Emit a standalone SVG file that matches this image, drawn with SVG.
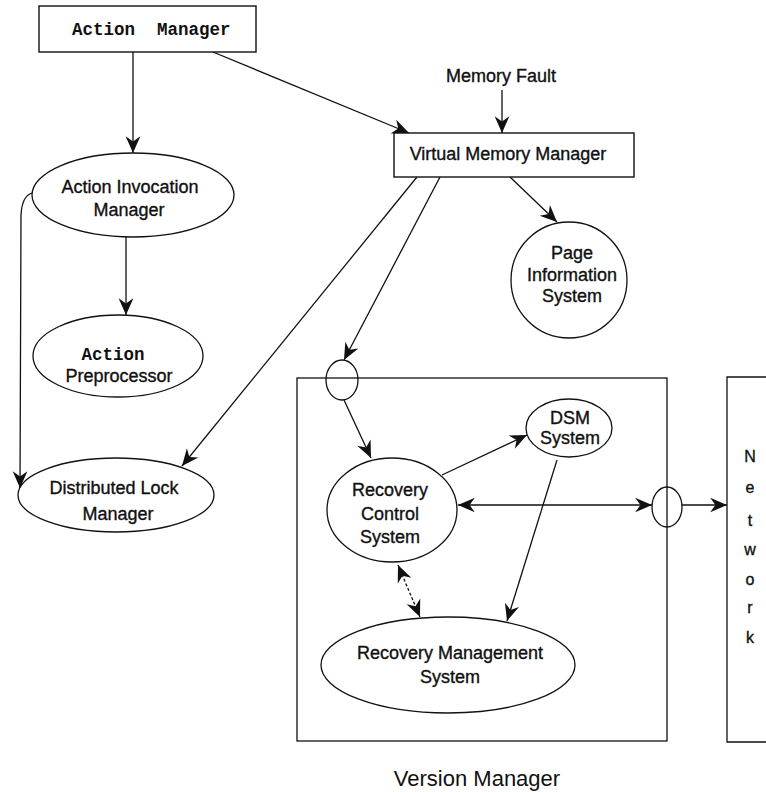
<svg xmlns="http://www.w3.org/2000/svg" width="766" height="792" viewBox="0 0 766 792">
<style>
.box{fill:#fff;stroke:#111;stroke-width:1.4}
.sh{fill:none;stroke:#111;stroke-width:1.3}
.t{font-family:"Liberation Sans",Arial,sans-serif;font-size:18px;fill:#111;stroke:#111;stroke-width:0.35;text-anchor:middle}
.m{font-family:"Liberation Mono","Courier New",monospace;font-size:17.5px;font-weight:bold;fill:#111}
.c{fill:none;stroke:#111;stroke-width:1.3}
</style>
<defs>
<marker id="ah" markerUnits="userSpaceOnUse" markerWidth="20" markerHeight="20" viewBox="-17 -8 19 16" refX="0" refY="0" orient="auto-start-reverse">
<path d="M0,0 L-16,-7 L-11,0 L-16,7 z" fill="#111"/>
</marker>
</defs>
<g id="connectors">
<path class="c" d="M133,52 L133,153" marker-end="url(#ah)"/>
<path class="c" d="M213,52 L409,133" marker-end="url(#ah)"/>
<path class="c" d="M502,90 L502,133" marker-end="url(#ah)"/>
<path class="c" d="M126,237 L126,315" marker-end="url(#ah)"/>
<path class="c" d="M32,193 Q22,196 21,215 L20,488" marker-end="url(#ah)"/>
<path class="c" d="M510,177 L557,222" marker-end="url(#ah)"/>
<path class="c" d="M417,177 L182,466" marker-end="url(#ah)"/>
<path class="c" d="M440,177 L344,360" marker-end="url(#ah)"/>
<path class="c" d="M344,400 L371,458" marker-end="url(#ah)"/>
<path class="c" d="M442,475 L527,435" marker-end="url(#ah)"/>
<path class="c" d="M458,505 L652,505" marker-start="url(#ah)" marker-end="url(#ah)"/>
<path class="c" d="M682,505 L727,505" marker-end="url(#ah)"/>
<path class="c" d="M557,460 L507,621" marker-end="url(#ah)"/>
<path class="c" d="M398,565 L420,617" stroke-dasharray="3,2" stroke-width="1" marker-start="url(#ah)" marker-end="url(#ah)"/>
</g>
<g id="action-manager">
<rect class="box" x="39" y="6" width="217" height="46"/>
<text class="m" y="35"><tspan x="72">Action</tspan><tspan x="157">Manager</tspan></text>
</g>
<g id="memory-fault">
<text class="t" x="501" y="82">Memory Fault</text>
</g>
<g id="virtual-memory-manager">
<rect class="box" x="394" y="133" width="240" height="44"/>
<text class="t" x="508" y="160">Virtual Memory Manager</text>
</g>
<g id="action-invocation-manager">
<ellipse class="sh" cx="133" cy="195" rx="101" ry="42"/>
<text class="t" x="130" y="193">Action Invocation</text>
<text class="t" x="129" y="216">Manager</text>
</g>
<g id="action-preprocessor">
<ellipse class="sh" cx="118" cy="356" rx="85" ry="41"/>
<text class="m" x="113" y="360" text-anchor="middle">Action</text>
<text class="t" x="119" y="382">Preprocessor</text>
</g>
<g id="page-information-system">
<ellipse class="sh" cx="569" cy="280" rx="58" ry="58"/>
<text class="t" x="572" y="259">Page</text>
<text class="t" x="572" y="281">Information</text>
<text class="t" x="572" y="302">System</text>
</g>
<g id="distributed-lock-manager">
<ellipse class="sh" cx="116" cy="495" rx="98" ry="37"/>
<text class="t" x="114" y="494">Distributed Lock</text>
<text class="t" x="118" y="520">Manager</text>
</g>
<g id="version-manager">
<rect class="sh" x="297" y="378" width="370" height="363"/>
<text class="t" x="477" y="786" style="font-size:22px;stroke-width:0">Version Manager</text>
</g>
<g id="port-top">
<ellipse class="sh" cx="342" cy="380" rx="16" ry="20"/>
</g>
<g id="port-right">
<ellipse class="sh" cx="667" cy="507" rx="15" ry="20"/>
</g>
<g id="recovery-control-system">
<ellipse class="sh" cx="392" cy="510" rx="65" ry="52"/>
<text class="t" x="390" y="496">Recovery</text>
<text class="t" x="390" y="520">Control</text>
<text class="t" x="390" y="543">System</text>
</g>
<g id="dsm-system">
<ellipse class="sh" cx="569" cy="428" rx="43" ry="29"/>
<text class="t" x="570" y="424">DSM</text>
<text class="t" x="570" y="444">System</text>
</g>
<g id="recovery-management-system">
<ellipse class="sh" cx="448" cy="665" rx="127" ry="48"/>
<text class="t" x="450" y="659">Recovery Management</text>
<text class="t" x="450" y="683">System</text>
</g>
<g id="network">
<path class="sh" d="M770,377 L727,377 L727,742 L770,742"/>
<text class="t" x="750" y="462" style="font-size:16px">N</text>
<text class="t" x="750" y="493" style="font-size:16px">e</text>
<text class="t" x="750" y="526" style="font-size:16px">t</text>
<text class="t" x="750" y="555" style="font-size:16px">w</text>
<text class="t" x="750" y="585" style="font-size:16px">o</text>
<text class="t" x="750" y="613" style="font-size:16px">r</text>
<text class="t" x="750" y="643" style="font-size:16px">k</text>
</g>
</svg>
